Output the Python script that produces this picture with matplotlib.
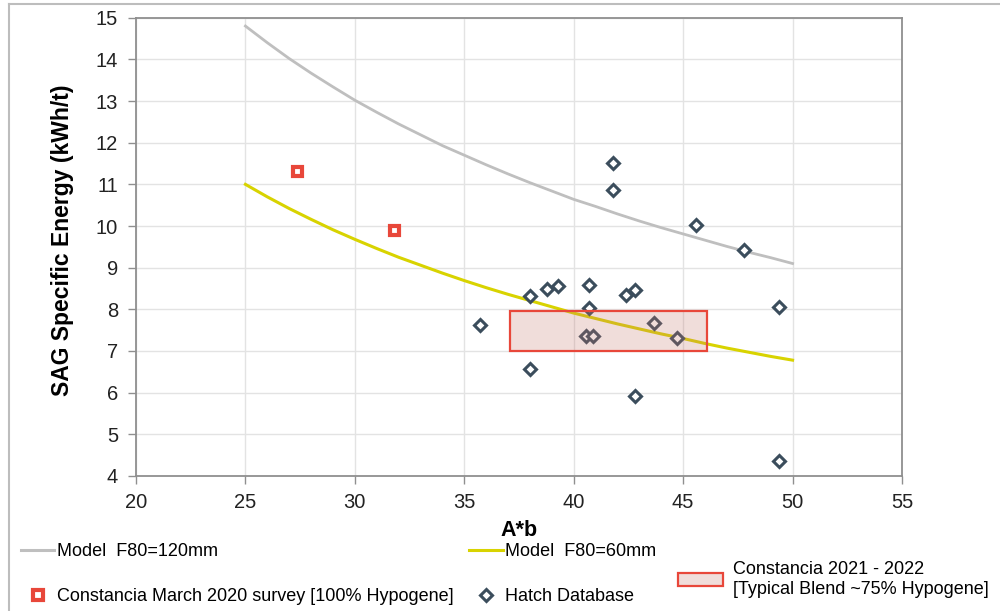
import matplotlib
matplotlib.use("Agg")
import matplotlib.pyplot as plt
import matplotlib.patheffects as pe
from matplotlib.lines import Line2D
from matplotlib.patches import Rectangle, Patch
import numpy as np

plt.rcParams['font.family'] = ['Liberation Sans', 'DejaVu Sans']

# model curves
model_x = list(range(25, 51))
model_120 = [14.80, 14.40, 14.02, 13.67, 13.34, 13.02, 12.73, 12.45, 12.19, 11.93,
             11.70, 11.47, 11.25, 11.04, 10.84, 10.64, 10.47, 10.29, 10.12, 9.96,
             9.81, 9.66, 9.51, 9.37, 9.24, 9.10]
model_60 = [11.00, 10.70, 10.42, 10.16, 9.91, 9.68, 9.46, 9.25, 9.06, 8.87,
            8.69, 8.52, 8.36, 8.21, 8.06, 7.91, 7.78, 7.65, 7.53, 7.41,
            7.30, 7.18, 7.07, 6.97, 6.87, 6.78]

# Constancia March 2020 survey
survey_x = [27.4, 31.8]
survey_y = [11.30, 9.90]

# Hatch database
hatch_x = [35.7, 38.0, 38.0, 38.8, 39.3, 40.7, 40.7, 40.55, 40.87, 41.8, 41.8,
           42.4, 42.8, 42.8, 43.67, 44.7, 45.6, 47.8, 49.4, 49.4]
hatch_y = [7.62, 8.32, 6.56, 8.48, 8.57, 8.58, 8.02, 7.36, 7.36, 11.52, 10.87,
           8.34, 8.46, 5.91, 7.66, 7.30, 10.02, 9.42, 8.06, 4.37]

# Constancia 2021 - 2022 range box
blend_x = [37.1, 46.1]
blend_y = [7.0, 7.95]

gray = '#bfbfbf'
yellow = '#d8d300'
red = '#e8473a'
slate = '#3b4d5c'
box_fill = (0.78, 0.47, 0.43, 0.25)
shadow = [pe.SimplePatchShadow(offset=(1.2, -1.2), shadow_rgbFace='k', alpha=0.18), pe.Normal()]

fig = plt.figure(figsize=(10, 6.11), dpi=100)
ax = fig.add_axes([0.136, 0.221, 0.766, 0.750])

ax.plot(model_x, model_120, color=gray, lw=2.0, zorder=3)
ax.plot(model_x, model_60, color=yellow, lw=2.2, zorder=3)
ax.plot(survey_x, survey_y, ls='none', marker='s', ms=6.5, mew=3.0,
        mfc='white', mec=red, zorder=5, path_effects=shadow)
ax.plot(hatch_x, hatch_y, ls='none', marker='D', ms=6.5, mew=2.2,
        mfc='white', mec=slate, zorder=5)
ax.add_patch(Rectangle((blend_x[0], blend_y[0]), blend_x[1] - blend_x[0],
                       blend_y[1] - blend_y[0], facecolor=box_fill,
                       edgecolor=red, lw=1.6, zorder=6))

ax.set_xlim(20, 55)
ax.set_ylim(4, 15)
ax.set_xticks(np.arange(20, 56, 5))
ax.set_yticks(np.arange(4, 16, 1))
ax.grid(True, color='#e3e3e3', lw=1.0, zorder=0)
ax.set_axisbelow(True)
for s in ax.spines.values():
    s.set_color('#8f8f8f')
    s.set_linewidth(1.3)
ax.tick_params(axis='both', labelsize=14.5, colors='#8f8f8f', labelcolor='#222222',
               length=6, width=1.0, direction='out')
ax.tick_params(axis='x', pad=6)
ax.tick_params(axis='y', pad=7)
ax.set_xlabel('A*b', fontsize=15.5, fontweight='bold', labelpad=6)
ax.set_ylabel('SAG Specific Energy (kWh/t)', fontsize=16.5, fontweight='bold')
ax.yaxis.set_label_coords(-0.081, 0.515)

handles = [Line2D([], [], color=gray, lw=2.2),
           Line2D([], [], ls='none', marker='s', ms=6.5, mew=3.0, mfc='white', mec=red),
           Line2D([], [], color=yellow, lw=2.2),
           Line2D([], [], ls='none', marker='D', ms=6.5, mew=2.2, mfc='white', mec=slate)]
labels = ['Model  F80=120mm', 'Constancia March 2020 survey [100% Hypogene]',
          'Model  F80=60mm', 'Hatch Database']
fig.legend(handles, labels, loc='upper left', bbox_to_anchor=(0.021, 0.111),
           ncol=2, frameon=False, fontsize=13, handlelength=1.85,
           handletextpad=0.12, columnspacing=0.9, labelspacing=1.55,
           borderaxespad=0, borderpad=0)
fig.legend([Patch(facecolor=box_fill, edgecolor=red, lw=1.6)],
           ['Constancia 2021 - 2022\n[Typical Blend ~75% Hypogene]'],
           loc='center left', bbox_to_anchor=(0.678, 0.052), frameon=False,
           fontsize=13, handlelength=2.5, handleheight=0.72, handletextpad=0.55,
           borderaxespad=0, borderpad=0)

# outer frame (left and top edges)
fig.add_artist(Line2D([0.009, 0.009], [0.0, 0.994], transform=fig.transFigure,
                      color='#bdbdbd', lw=1.5))
fig.add_artist(Line2D([0.009, 1.0], [0.994, 0.994], transform=fig.transFigure,
                      color='#bdbdbd', lw=1.5))

fig.savefig('out.png', dpi=100)
